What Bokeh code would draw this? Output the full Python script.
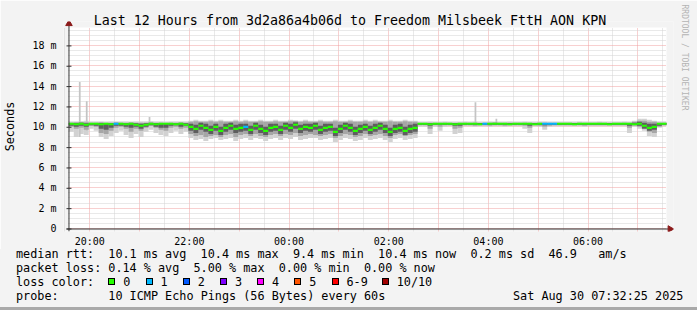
import numpy as np
from math import pi
from bokeh.plotting import figure
from bokeh.layouts import column
from bokeh.models import FixedTicker, Title, ColumnDataSource, Div
from bokeh.embed import file_html
from bokeh.resources import INLINE

MONO = "DejaVu Sans Mono"

TITLE = "Last 12 Hours from 3d2a86a4b06d to Freedom Milsbeek FttH AON KPN"
Y_LABEL = "Seconds"
WATERMARK = "RRDTOOL / TOBI OETIKER"

# ---------------------------------------------------------------- data
# 6-minute bins, first bin starts 19:35 (hours counted from midnight of day 1)
T_START = 19.58
BIN = 0.1

median_ms = [
    10.3, 10.25, 10.3, 10.2, 10.3, 10.3, 10.25, 10.3, 10.25, 10.3,
    10.3, 10.25, 10.3, 10.2, 10.1, 10.2, 10.3, 10.25, 10.3, 10.3,
    10.3, 10.25, 10.3, 10.2, 10.0, 9.8, 10.1, 9.9, 9.7, 10.0,
    9.6, 9.9, 10.1, 9.8, 9.9, 10.0, 9.7, 10.1, 9.8, 9.6,
    9.9, 10.0, 9.7, 10.1, 9.9, 10.2, 9.8, 10.0, 9.9, 10.1,
    9.7, 9.9, 10.0, 9.5, 9.8, 10.1, 9.9, 9.6, 9.8, 10.0,
    9.7, 9.9, 10.1, 9.8, 9.5, 9.8, 9.9, 9.6, 9.8, 9.9,
    10.3, 10.3, 10.25, 10.3, 10.3, 10.3, 10.3, 10.25, 10.3, 10.3,
    10.3, 10.3, 10.25, 10.3, 10.3, 10.3, 10.3, 10.3, 10.25, 10.3,
    10.3, 10.3, 10.3, 10.25, 10.3, 10.3, 10.3, 10.3, 10.3, 10.3,
    10.3, 10.25, 10.3, 10.3, 10.3, 10.3, 10.3, 10.3, 10.25, 10.3,
    10.3, 10.3, 10.3, 10.25, 10.3, 10.1, 9.9, 10.0, 10.3, 10.3,
]

loss = [
    0, 0, 0, 0, 0, 0, 0, 0, 0, 1,
    0, 0, 0, 0, 0, 0, 0, 0, 0, 0,
    0, 0, 0, 0, 0, 0, 0, 0, 0, 0,
    0, 0, 0, 0, 0, 1, 0, 0, 0, 0,
    0, 0, 0, 0, 0, 0, 0, 0, 0, 0,
    0, 0, 0, 0, 0, 0, 0, 0, 0, 0,
    0, 0, 0, 0, 0, 0, 0, 0, 0, 0,
    0, 0, 0, 0, 0, 0, 0, 0, 0, 0,
    0, 0, 0, 1, 0, 0, 0, 0, 0, 0,
    0, 0, 0, 0, 0, 1, 1, 1, 0, 0,
    0, 0, 0, 0, 0, 0, 0, 0, 0, 0,
    0, 0, 0, 0, 0, 0, 0, 0, 0, 0,
]

# outer (light) smoke band
smoke_lo1 = [
    9.5, 9.0, 9.3, 9.2, 9.8, 9.6, 9.0, 8.8, 9.1, 9.4,
    9.6, 9.2, 8.9, 9.3, 9.0, 9.5, 9.7, 9.4, 9.2, 9.1,
    9.4, 9.6, 9.3, 9.5, 8.9, 8.7, 8.8, 8.6, 8.8, 8.9,
    8.7, 8.8, 8.9, 8.6, 8.8, 8.9, 8.7, 8.9, 8.8, 8.6,
    8.8, 8.9, 8.7, 8.9, 8.8, 9.0, 8.7, 8.8, 8.9, 8.9,
    8.7, 8.8, 8.9, 8.5, 8.7, 8.9, 8.8, 8.6, 8.7, 8.9,
    8.7, 8.8, 8.9, 8.7, 8.5, 8.8, 8.9, 8.7, 8.8, 8.9,
    10.0, 10.0, 9.3, 10.0, 9.6, 10.0, 10.05, 9.3, 9.4, 10.05,
    10.05, 10.0, 10.05, 10.05, 10.0, 10.05, 10.05, 10.0, 10.05, 10.05,
    10.05, 9.8, 9.4, 10.05, 10.0, 9.7, 10.0, 10.05, 10.05, 10.05,
    10.05, 10.05, 10.05, 10.0, 10.05, 10.05, 10.05, 10.05, 10.05, 10.05,
    10.05, 10.05, 9.4, 10.0, 9.8, 9.6, 9.1, 9.0, 9.9, 10.05,
]
smoke_hi1 = [
    10.5, 10.5, 10.55, 10.6, 10.5, 10.5, 10.5, 10.45, 10.5, 10.5,
    10.5, 10.5, 10.45, 10.5, 10.5, 10.5, 10.55, 10.5, 10.5, 10.45,
    10.5, 10.5, 10.5, 10.5, 10.6, 10.7, 10.6, 10.6, 10.7, 10.6,
    10.7, 10.6, 10.6, 10.7, 10.6, 10.7, 10.6, 10.6, 10.7, 10.6,
    10.6, 10.7, 10.6, 10.6, 10.7, 10.6, 10.6, 10.7, 10.6, 10.6,
    10.7, 10.6, 10.6, 10.7, 10.6, 10.6, 10.7, 10.6, 10.6, 10.7,
    10.6, 10.7, 10.6, 10.6, 10.7, 10.6, 10.6, 10.7, 10.6, 10.6,
    10.45, 10.45, 10.5, 10.45, 10.45, 10.5, 10.45, 10.45, 10.45, 10.5,
    10.45, 10.5, 10.45, 10.45, 10.5, 10.45, 10.45, 10.45, 10.5, 10.45,
    10.45, 10.5, 10.45, 10.45, 10.5, 10.5, 10.45, 10.45, 10.45, 10.45,
    10.45, 10.45, 10.5, 10.45, 10.45, 10.45, 10.5, 10.45, 10.45, 10.45,
    10.45, 10.5, 10.45, 10.6, 10.8, 10.8, 10.7, 10.6, 10.5, 10.5,
]
# middle (medium grey) band
smoke_lo2 = [
    10.0, 9.8, 9.9, 9.7, 10.1, 10.0, 9.4, 9.3, 9.6, 9.9,
    10.0, 9.8, 9.5, 9.8, 9.6, 9.9, 10.1, 9.9, 9.7, 9.6,
    9.9, 10.0, 9.8, 9.9, 9.3, 9.1, 9.2, 9.0, 9.1, 9.2,
    9.0, 9.2, 9.3, 9.0, 9.2, 9.3, 9.1, 9.3, 9.1, 9.0,
    9.2, 9.3, 9.1, 9.3, 9.2, 9.4, 9.1, 9.2, 9.3, 9.2,
    9.1, 9.2, 9.3, 8.9, 9.1, 9.3, 9.2, 9.0, 9.1, 9.3,
    9.1, 9.2, 9.3, 9.1, 8.9, 9.2, 9.3, 9.1, 9.2, 9.3,
    10.15, 10.15, 9.8, 10.15, 10.0, 10.15, 10.15, 9.8, 9.9, 10.15,
    10.15, 10.1, 10.15, 10.15, 10.1, 10.15, 10.15, 10.1, 10.15, 10.15,
    10.15, 10.1, 9.9, 10.15, 10.1, 10.0, 10.1, 10.15, 10.15, 10.15,
    10.15, 10.15, 10.15, 10.1, 10.15, 10.15, 10.15, 10.15, 10.15, 10.15,
    10.15, 10.15, 9.9, 10.1, 10.0, 9.9, 9.5, 9.4, 10.0, 10.15,
]
smoke_hi2 = [
    10.4, 10.45, 10.45, 10.45, 10.4, 10.4, 10.45, 10.4, 10.4, 10.45,
    10.4, 10.4, 10.45, 10.4, 10.4, 10.4, 10.45, 10.4, 10.4, 10.4,
    10.4, 10.4, 10.45, 10.4, 10.5, 10.55, 10.5, 10.5, 10.55, 10.5,
    10.55, 10.5, 10.5, 10.55, 10.5, 10.55, 10.5, 10.5, 10.55, 10.5,
    10.5, 10.55, 10.5, 10.5, 10.55, 10.6, 10.5, 10.55, 10.5, 10.5,
    10.55, 10.5, 10.5, 10.55, 10.5, 10.5, 10.55, 10.5, 10.5, 10.55,
    10.5, 10.55, 10.5, 10.5, 10.55, 10.5, 10.5, 10.55, 10.5, 10.5,
    10.4, 10.4, 10.4, 10.4, 10.4, 10.4, 10.4, 10.4, 10.4, 10.4,
    10.4, 10.4, 10.4, 10.4, 10.4, 10.45, 10.4, 10.4, 10.4, 10.4,
    10.4, 10.4, 10.4, 10.4, 10.4, 10.4, 10.4, 10.4, 10.4, 10.4,
    10.4, 10.4, 10.4, 10.4, 10.4, 10.4, 10.4, 10.4, 10.4, 10.4,
    10.4, 10.4, 10.4, 10.5, 10.6, 10.6, 10.5, 10.5, 10.4, 10.4,
]
# inner (dark) band
smoke_lo3 = [
    10.1, 10.0, 10.1, 10.0, 10.15, 10.1, 9.8, 9.7, 9.9, 10.1,
    10.1, 10.0, 9.9, 10.0, 9.8, 10.0, 10.15, 10.0, 9.9, 9.9,
    10.1, 10.15, 10.0, 10.1, 9.6, 9.4, 9.7, 9.5, 9.3, 9.6,
    9.2, 9.5, 9.7, 9.4, 9.5, 9.6, 9.3, 9.7, 9.4, 9.2,
    9.5, 9.6, 9.3, 9.7, 9.5, 9.8, 9.4, 9.6, 9.5, 9.7,
    9.3, 9.5, 9.6, 9.1, 9.4, 9.7, 9.5, 9.2, 9.4, 9.6,
    9.3, 9.5, 9.7, 9.4, 9.1, 9.4, 9.5, 9.2, 9.4, 9.5,
    10.2, 10.2, 10.1, 10.2, 10.2, 10.2, 10.2, 10.1, 10.1, 10.2,
    10.2, 10.2, 10.2, 10.2, 10.2, 10.2, 10.2, 10.2, 10.2, 10.2,
    10.2, 10.2, 10.1, 10.2, 10.2, 10.15, 10.2, 10.2, 10.2, 10.2,
    10.2, 10.2, 10.2, 10.2, 10.2, 10.2, 10.2, 10.2, 10.2, 10.2,
    10.2, 10.2, 10.1, 10.2, 10.1, 9.8, 9.6, 9.7, 10.1, 10.2,
]
smoke_hi3 = [
    10.38, 10.38, 10.4, 10.35, 10.38, 10.38, 10.38, 10.38, 10.35, 10.38,
    10.38, 10.35, 10.38, 10.35, 10.3, 10.35, 10.38, 10.38, 10.38, 10.38,
    10.38, 10.35, 10.38, 10.35, 10.3, 10.2, 10.4, 10.3, 10.1, 10.3,
    10.0, 10.3, 10.4, 10.2, 10.3, 10.3, 10.1, 10.4, 10.2, 10.0,
    10.3, 10.3, 10.1, 10.4, 10.3, 10.45, 10.2, 10.3, 10.3, 10.4,
    10.1, 10.3, 10.3, 9.9, 10.2, 10.4, 10.3, 10.0, 10.2, 10.3,
    10.1, 10.3, 10.4, 10.2, 9.9, 10.2, 10.3, 10.0, 10.2, 10.3,
    10.38, 10.38, 10.38, 10.38, 10.38, 10.38, 10.38, 10.38, 10.38, 10.38,
    10.38, 10.38, 10.38, 10.38, 10.38, 10.38, 10.38, 10.38, 10.38, 10.38,
    10.38, 10.38, 10.38, 10.38, 10.38, 10.38, 10.38, 10.38, 10.38, 10.38,
    10.38, 10.38, 10.38, 10.38, 10.38, 10.38, 10.38, 10.38, 10.38, 10.38,
    10.38, 10.38, 10.38, 10.4, 10.5, 10.4, 10.3, 10.3, 10.38, 10.38,
]

# isolated single-sample spikes (time in hours, top and bottom in ms)
spike_t = [19.80, 19.94, 21.20, 27.74, 28.16]
spike_hi = [14.4, 12.5, 10.95, 12.4, 10.8]
spike_lo = [9.0, 9.6, 10.2, 10.2, 10.3]

x_tick_hours = [20, 22, 24, 26, 28, 30]
x_tick_labels = ["20:00", "22:00", "00:00", "02:00", "04:00", "06:00"]
y_ticks = [0, 2, 4, 6, 8, 10, 12, 14, 16, 18]
y_tick_labels = ["0", "2 m", "4 m", "6 m", "8 m", "10 m", "12 m", "14 m", "16 m", "18 m"]

loss_labels = ["0", "1", "2", "3", "4", "5", "6-9", "10/10"]
loss_colors = ["#26ff00", "#00b8ff", "#0059ff", "#7e00ff", "#ff00ff",
               "#ff5500", "#ff0000", "#a10000"]

rtt_stats = ["10.1 ms avg", "10.4 ms max", "9.4 ms min", "10.4 ms now",
             "0.2 ms sd", "46.9", "am/s"]
loss_stats = ["0.14 % avg", "5.00 % max", "0.00 % min", "0.00 % now"]
probe_text = "10 ICMP Echo Pings (56 Bytes) every 60s"
date_text = "Sat Aug 30 07:32:25 2025"

# ---------------------------------------------------------------- chart
W, H = 697, 310
TOP_H = 249                    # chart figure height; legend strip sits below
PX_H, PX_MS = 50.0, 10.17      # pixels per hour / per millisecond
# time / latency span of the graph canvas (axes cross at X0, Y0)
X0, X1 = 19.574, 31.574
Y0, Y1 = 0.0, 19.76
# the frame reaches a few pixels past the canvas so that the arrow heads fit
PAD_L, PAD_R, PAD_T, PAD_B = 5, 7, 6, 3
FL, FR, FT, FB = 67 - PAD_L, 667 + PAD_R, 27 - PAD_T, 228 + PAD_B
BG = "#f3f3f3"
AXIS_C = "#333333"
HEAD_C = "#8b1a1a"

p = figure(width=W, height=TOP_H,
           x_range=(X0 - PAD_L / PX_H, X1 + PAD_R / PX_H),
           y_range=(Y0 - PAD_B / PX_MS, Y1 + PAD_T / PX_MS),
           output_backend="svg", toolbar_location=None,
           min_border_left=FL, min_border_right=W - FR,
           min_border_top=FT, min_border_bottom=TOP_H - FB,
           background_fill_color=BG, border_fill_color=BG,
           outline_line_color=None)

p.title = Title(text=TITLE, align="left", offset=92.3 - FL, standoff=-2 * PAD_T,
                text_font=MONO, text_font_size="13.3px",
                text_font_style="normal", text_color="#000000")

# white graph canvas
p.quad(left=[X0], right=[X1], bottom=[Y0], top=[Y1], fill_color="white",
       line_color=None, level="image")

t0 = T_START + BIN * np.arange(len(median_ms))
t1 = t0 + BIN
src = ColumnDataSource(dict(
    t0=t0, t1=np.minimum(t1, X1), med=median_ms,
    lo1=smoke_lo1, hi1=smoke_hi1, lo2=smoke_lo2, hi2=smoke_hi2,
    lo3=smoke_lo3, hi3=smoke_hi3,
    col=[loss_colors[k] for k in loss],
))

p.quad(left="t0", right="t1", bottom="lo1", top="hi1", source=src,
       fill_color="#d2d2d2", line_color=None)
p.vbar(x=spike_t, top=spike_hi, bottom=spike_lo, width=0.035,
       fill_color="#c4c4c4", line_color=None)
p.quad(left="t0", right="t1", bottom="lo2", top="hi2", source=src,
       fill_color="#a6a6a6", line_color=None)
p.quad(left="t0", right="t1", bottom="lo3", top="hi3", source=src,
       fill_color="#5e5e5e", line_color=None)
p.segment(x0="t0", x1="t1", y0="med", y1="med", source=src,
          line_color="col", line_width=2.2)

# axes: labels from Bokeh's axes, lines drawn where the axes cross (X0 / Y0)
xa = p.xaxis[0]
xa.ticker = FixedTicker(ticks=list(range(20, 32)),
                        minor_ticks=[19.5 + k for k in range(13)])
xa.major_label_overrides = {h: "" for h in range(20, 32)}
xa.major_label_overrides.update(dict(zip(x_tick_hours, x_tick_labels)))
xa.axis_line_color = None
xa.major_tick_line_color = None
xa.minor_tick_line_color = None
xa.major_tick_in = 0
xa.major_tick_out = 0
xa.minor_tick_in = 0
xa.minor_tick_out = 0
xa.major_label_text_font = MONO
xa.major_label_text_font_size = "10px"
xa.major_label_text_color = "#000000"
xa.major_label_standoff = 4

ya = p.yaxis[0]
ya.ticker = FixedTicker(ticks=y_ticks,
                        minor_ticks=[k * 0.5 for k in range(40) if k % 4])
ya.major_label_overrides = dict(zip(y_ticks, y_tick_labels))
ya.axis_line_color = None
ya.major_tick_line_color = None
ya.minor_tick_line_color = None
ya.major_tick_in = 0
ya.major_tick_out = 0
ya.major_label_text_font = MONO
ya.major_label_text_font_size = "10px"
ya.major_label_text_color = "#000000"
ya.major_label_standoff = 3
ya.axis_label = Y_LABEL
ya.axis_label_text_font = MONO
ya.axis_label_text_font_size = "11.8px"
ya.axis_label_text_font_style = "normal"
ya.axis_label_text_color = "#000000"
ya.axis_label_standoff = 12

for g in (p.xgrid[0], p.ygrid[0]):
    g.grid_line_color = "#f0a0a0"
    g.grid_line_dash = "1 1"
    g.minor_grid_line_color = "#d2d2d2"
    g.minor_grid_line_dash = "1 1"
try:
    p.xgrid[0].cross_bounds = (Y0 - PAD_B / PX_MS, Y1 - 0.1)
    p.ygrid[0].cross_bounds = (X0, X1)
except AttributeError:
    pass

# axis lines, y tick marks and arrow heads
hx, hy = 0.5 / PX_H, 0.5 / PX_MS          # half-pixel offsets for crisp lines
p.segment(x0=[X0 + hx, X0 - 2 / PX_H], x1=[X0 + hx, X1 + 2 / PX_H],
          y0=[Y0 - PAD_B / PX_MS, Y0 - hy], y1=[Y1 + 2 / PX_MS, Y0 - hy],
          line_color=AXIS_C, line_width=1)
p.segment(x0=[X0 - 2 / PX_H] * len(y_ticks), x1=[X0 + 3 / PX_H] * len(y_ticks),
          y0=[v - hy for v in y_ticks], y1=[v - hy for v in y_ticks],
          line_color=AXIS_C, line_width=1)
p.scatter(x=[X0 + hx], y=[Y1 + 3.8 / PX_MS], marker="triangle", size=6.5,
          fill_color=HEAD_C, line_color=HEAD_C)
p.scatter(x=[X1 + 3.5 / PX_H], y=[Y0 - hy], marker="triangle", size=6.5,
          angle=-pi / 2, fill_color=HEAD_C, line_color=HEAD_C)

# watermark on the right edge
p.add_layout(Title(text=WATERMARK, align="left", offset=-(FT - 4), standoff=13,
                   text_font=MONO, text_font_size="8px",
                   text_font_style="normal", text_color="#b4b4b4"), "right")

# ---------------------------------------------------------------- legend strip
LEG_H = H - TOP_H
CW = 7.1
LX = 16
rtt_cols = [13, 26, 39, 51, 64, 75, 82]
loss_cols = [13, 25, 37, 49]
ASC = 10.95            # DejaVu Sans Mono ascent at 11.8px (line-height normal)

items = []


def put(x, base_y, s):
    items.append(
        f'<span style="position:absolute;left:{x:.1f}px;top:{base_y - TOP_H - ASC:.2f}px;'
        f'white-space:pre">{s}</span>')


def sq(x, top_y, colr):
    items.append(
        f'<span style="position:absolute;left:{x:.1f}px;top:{top_y - TOP_H:.1f}px;'
        f'width:7px;height:7px;border:1px solid #000;background:{colr}"></span>')


put(LX, 258, "median rtt:")
for s, c in zip(rtt_stats, rtt_cols):
    put(LX + CW * c, 258, s)
put(LX, 272, "packet loss:")
for s, c in zip(loss_stats, loss_cols):
    put(LX + CW * c, 272, s)
put(LX, 286, "loss color:")
box_x = [108.3 + 37.2 * k for k in range(7)] + [381.7]
for bx, name, colr in zip(box_x, loss_labels, loss_colors):
    sq(bx, 277.8, colr)
    put(bx + 15, 286, name)
put(LX, 300, "probe:")
put(LX + CW * 13, 300, probe_text)
put(513, 300, date_text)
items.append(f'<span style="position:absolute;left:0;top:{LEG_H - 3}px;'
             f'width:{W}px;height:3px;background:#a9a9a9"></span>')

html = (f'<div style="position:relative;width:{W}px;height:{LEG_H}px;'
        f'background:{BG};font-family:\'{MONO}\';font-size:11.8px;'
        f'line-height:normal;color:#000">' + "".join(items) + "</div>")
leg = Div(text=html, width=W, height=LEG_H, margin=0,
          styles={"background": BG, "margin": "0", "padding": "0"})

layout = column(p, leg, spacing=0)
open("out.html", "w").write(file_html(layout, INLINE))
